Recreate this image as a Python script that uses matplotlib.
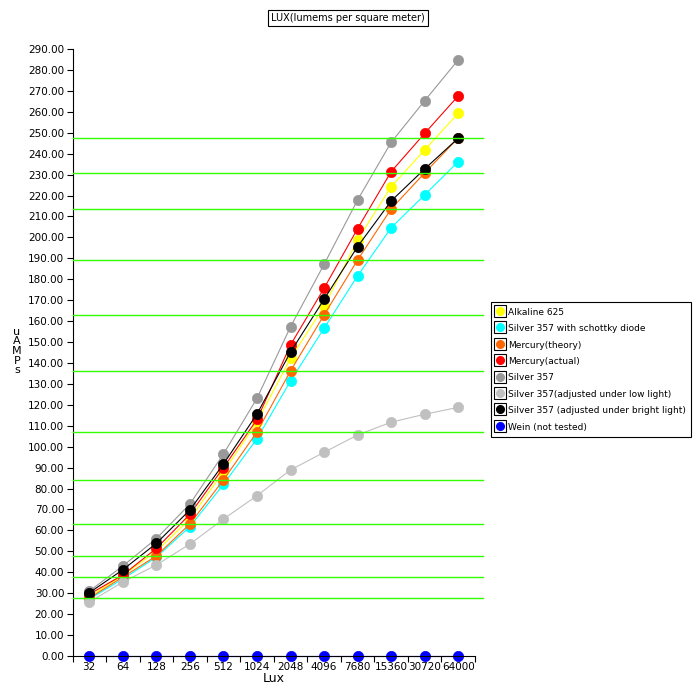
import matplotlib.pyplot as plt
from matplotlib.lines import Line2D
from matplotlib.legend_handler import HandlerTuple

lux = ["32", "64", "128", "256", "512", "1024", "2048", "4096", "7680", "15360", "30720", "64000"]

alkaline = [28.5, 38.5, 50.0, 65.5, 88.0, 111.8, 142.2, 167.0, 198.8, 224.2, 241.8, 259.3]
schottky = [27.2, 36.8, 47.2, 61.8, 82.0, 103.8, 131.4, 156.6, 181.6, 204.6, 220.3, 236.2]
merc_theory = [27.7, 37.7, 47.8, 63.1, 84.1, 107.0, 136.2, 162.9, 189.2, 213.6, 230.8, 247.5]
merc_actual = [29.5, 38.7, 51.4, 67.7, 90.0, 113.0, 148.6, 175.7, 204.2, 231.4, 249.7, 267.6]
silver = [31.0, 43.0, 56.1, 72.6, 96.5, 123.1, 157.3, 187.1, 217.9, 245.4, 265.3, 284.8]
silver_low = [25.8, 35.3, 43.5, 53.5, 65.4, 76.6, 88.9, 97.3, 105.6, 111.7, 115.5, 118.8]
silver_bright = [30.2, 41.2, 53.8, 69.8, 91.7, 115.6, 145.2, 170.4, 195.6, 217.4, 232.7, 247.4]
wein = [0.0] * 12

series = [
    ("Alkaline 625", alkaline, "#ffff00"),
    ("Silver 357 with schottky diode", schottky, "#00ffff"),
    ("Mercury(theory)", merc_theory, "#ff6600"),
    ("Mercury(actual)", merc_actual, "#ff0000"),
    ("Silver 357", silver, "#999999"),
    ("Silver 357(adjusted under low light)", silver_low, "#c0c0c0"),
    ("Silver 357 (adjusted under bright light)", silver_bright, "#000000"),
    ("Wein (not tested)", wein, "#0000ff"),
]

plt.rcParams["font.family"] = "DejaVu Sans"
fig = plt.figure(figsize=(6.97, 6.99), dpi=100)
ax = fig.add_axes([72.5 / 697, 43 / 699, 402.5 / 697, 607 / 699])

x = list(range(len(lux)))
for name, vals, col in series:
    ax.plot(x, vals, color=col, lw=0.8, marker="o", ms=7.4, mec=col, mfc=col,
            mew=0.5, clip_on=False)

# reference lines at the theoretical mercury values
for v in merc_theory:
    ax.axhline(v, xmin=0, xmax=1.02, color="#33ff00", lw=1.0, clip_on=False, zorder=5)

ax.set_xlim(-0.5, len(lux) - 0.5)
ax.set_ylim(0, 290)
ax.set_yticks(range(0, 291, 10))
ax.set_yticklabels([f"{v:.2f}" for v in range(0, 291, 10)], fontsize=7.5)
ax.set_xticks(x)
ax.set_xticklabels(lux, fontsize=7.5)
ax.set_xticks([i - 0.5 for i in range(len(lux) + 1)], minor=True)
ax.tick_params(axis="x", which="major", length=0, pad=4)
ax.tick_params(axis="x", which="minor", length=4, width=0.8, direction="out")
ax.tick_params(axis="y", length=4, width=0.8, direction="out", pad=2)
for s in ["top", "right"]:
    ax.spines[s].set_visible(False)
for s in ["left", "bottom"]:
    ax.spines[s].set_linewidth(0.8)

fig.text(274 / 697, 1 - 679 / 699, "Lux", ha="center", va="center", fontsize=9)
fig.text(17 / 697, 1 - 351 / 699, "u\nA\nM\nP\ns", ha="center", va="center",
         fontsize=8, linespacing=0.95)
fig.text(348 / 697, 1 - 18 / 699, "LUX(lumems per square meter)", ha="center",
         va="center", fontsize=7,
         bbox=dict(boxstyle="square,pad=0.3", fc="white", ec="black", lw=0.8))

handles = []
for name, vals, col in series:
    box = Line2D([], [], marker="s", ls="", ms=9, mfc="white", mec="black", mew=0.8)
    dot = Line2D([], [], marker="o", ls="", ms=5.5, mfc=col, mec=col)
    handles.append((box, dot))
leg = fig.legend(handles, [s[0] for s in series], loc="upper left",
                 bbox_to_anchor=(491 / 697, 1 - 302 / 699), fontsize=6.5,
                 handler_map={tuple: HandlerTuple(ndivide=1, pad=0)},
                 handlelength=0.9, handleheight=1.2, handletextpad=0.4,
                 labelspacing=0.75, borderpad=0.55, borderaxespad=0,
                 fancybox=False, framealpha=1, edgecolor="black")
leg.get_frame().set_linewidth(0.8)

fig.savefig("out.png", dpi=100)
